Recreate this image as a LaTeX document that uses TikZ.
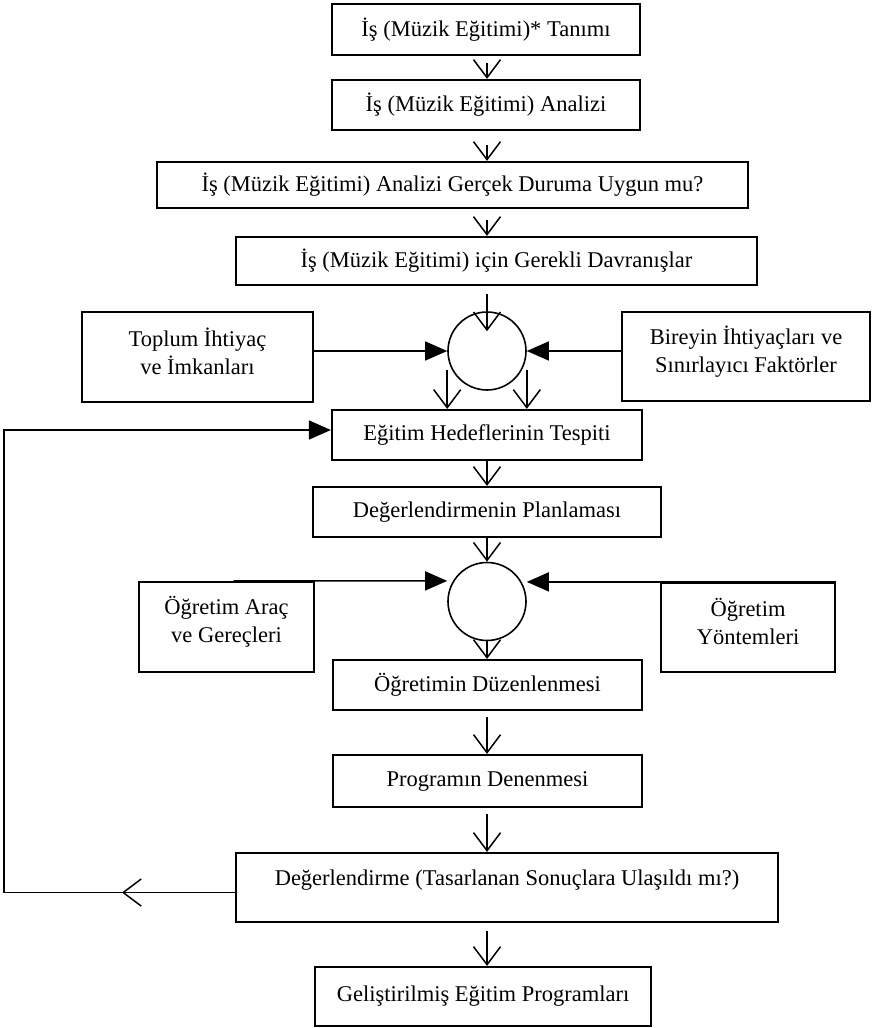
\documentclass[tikz,border=0pt]{standalone}
\usepackage{fontspec}
\setmainfont{Liberation Serif}
\usetikzlibrary{arrows.meta,calc}
\begin{document}
\begin{tikzpicture}[x=1pt,y=-1pt,
  txt/.style={font=\fontsize{22.5}{28}\selectfont},
  box/.style={draw, line width=2.2pt, inner sep=0pt, align=center, txt},
  lbl/.style={inner sep=0pt, align=center, txt},
  circ/.style={draw, circle, line width=1.6pt, minimum size=78pt, inner sep=0pt},
  conn/.style={line width=1.5pt},
  vtip/.style={conn, -{Straight Barb[length=18pt, width=27pt]}},
  ftip/.style={conn, -{Triangle[length=22pt, width=19pt]}},
]
\useasboundingbox (0,0) rectangle (874,1028);

% boxes
\node[box, minimum width=308pt, minimum height=51pt] (b1) at (486,29.5) {İş (Müzik Eğitimi)* Tanımı};
\node[box, minimum width=308pt, minimum height=50pt] (b2) at (486,105) {İş (Müzik Eğitimi) Analizi};
\node[box, minimum width=591pt, minimum height=46pt] (b3) at (452.5,185) {İş (Müzik Eğitimi) Analizi Gerçek Duruma Uygun mu?};
\node[box, minimum width=521pt, minimum height=48pt] (b4) at (496.5,261) {İş (Müzik Eğitimi) için Gerekli Davranışlar};

\node[circ] (c1) at (487,351) {};
\node[box, minimum width=231pt, minimum height=90pt,
  label={[lbl, yshift=6pt]center:Toplum İhtiyaç\\ve İmkanları}] (toplum) at (197.5,357) {};
\node[box, minimum width=248pt, minimum height=89pt,
  label={[lbl, yshift=5pt]center:Bireyin İhtiyaçları ve\\Sınırlayıcı Faktörler}] (birey) at (746,356.5) {};

\node[box, minimum width=310pt, minimum height=50pt] (eg) at (487,435) {Eğitim Hedeflerinin Tespiti};
\node[box, minimum width=348pt, minimum height=50pt] (dp) at (487,512) {Değerlendirmenin Planlaması};

\node[circ] (c2) at (487,601.5) {};
\node[box, minimum width=175pt, minimum height=90pt,
  label={[lbl, yshift=5pt]center:Öğretim Araç\\ve Gereçleri}] (arac) at (226.5,627) {};
\node[box, minimum width=174pt, minimum height=89pt,
  label={[lbl, yshift=6pt]center:Öğretim\\Yöntemleri}] (yon) at (748,627.5) {};

\node[box, minimum width=309pt, minimum height=50pt] (od) at (487.5,685) {Öğretimin Düzenlenmesi};
\node[box, minimum width=309pt, minimum height=52pt] (pd) at (487.5,781) {Programın Denenmesi};
\node[box, minimum width=542pt, minimum height=69pt,
  label={[lbl, yshift=7pt]center:Değerlendirme (Tasarlanan Sonuçlara Ulaşıldı mı?)}] (deg) at (507,887.5) {};
\node[box, minimum width=336pt, minimum height=59pt] (gel) at (483,996.5) {Geliştirilmiş Eğitim Programları};

% top chain
\draw[vtip] ($(b1.south -| c1)+(0,7)$) -- (b2.north -| c1);
\draw[vtip] ($(b2.south -| c1)+(0,14)$) -- (b3.north -| c1);
\draw[vtip] ($(b3.south -| c1)+(0,11)$) -- (b4.north -| c1);
\draw[vtip] ($(b4.south -| c1)+(0,8)$) -- ($(c1.north)+(0,20)$);

% first circle
\draw[ftip] (toplum.east |- c1.west) -- (c1.west);
\draw[ftip] (birey.west |- c1.east) -- (c1.east);
\draw[vtip] ($(c1.west)+(0,19)$) -- (c1.west |- eg.north);
\draw[vtip] ($(c1.east)+(0,19)$) -- (c1.east |- eg.north);

\draw[vtip] (eg.south -| c1) -- (dp.north -| c1);
\draw[vtip] (dp.south -| c2) -- (c2.north);

% second circle
\draw[ftip] ($(arac.north west)!0.54!(arac.north east)$) -- (c2.west |- arac.north);
\draw[ftip] (yon.north east) -- (c2.east |- yon.north);
\draw[vtip] (c2.south) -- (od.north -| c2);

\draw[vtip] ($(od.south -| c1)+(0,6)$) -- (pd.north -| c1);
\draw[vtip] ($(pd.south -| c1)+(0,6)$) -- (deg.north -| c1);
\draw[vtip] ($(deg.south -| c1)+(0,8)$) -- (gel.north -| c1);

% feedback loop
\coordinate (fbm) at ($(deg.west)+(-113,5)$);
\coordinate (fbl) at (4,892.5);
\draw[vtip] ($(deg.west)+(0,5)$) -- (fbm);
\draw[ftip] (fbm) -- (fbl) |- ($(eg.west)+(0,-5)$);
\end{tikzpicture}
\end{document}
